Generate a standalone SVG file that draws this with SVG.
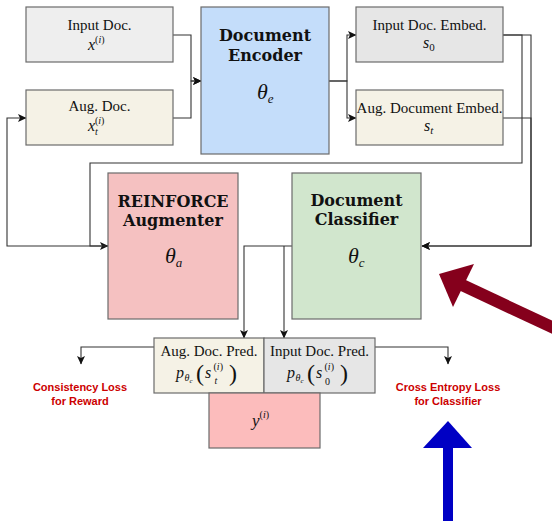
<svg xmlns="http://www.w3.org/2000/svg" width="552" height="521" viewBox="0 0 552 521">
  <defs>
    <marker id="arr" markerUnits="userSpaceOnUse" markerWidth="9" markerHeight="9" viewBox="0 0 9 9" refX="8" refY="4.5" orient="auto">
      <path d="M0,0.5 L8.5,4.5 L0,8.5 L2,4.5 z" fill="#111"/>
    </marker>
    <style>
      .box { stroke: #6b6b6b; stroke-width: 1.2; }
      .edge { fill: none; stroke: #333; stroke-width: 1.1; }
      .t { font-family: "Liberation Serif", "Times New Roman", serif; font-size: 15px; fill: #111; text-anchor: middle; }
      .h { font-family: "DejaVu Serif", "Liberation Serif", serif; font-weight: bold; font-size: 16px; fill: #111; text-anchor: middle; }
      .m { font-family: "Liberation Serif", "Times New Roman", serif; font-style: italic; fill: #111; }
      .loss { font-family: "Liberation Sans", Arial, sans-serif; font-weight: bold; font-size: 11px; fill: #cc0000; text-anchor: middle; }
      .gray { fill: #eeeeee; }
      .gray2 { fill: #e6e6e6; }
      .cream { fill: #f5f2e6; }
    </style>
  </defs>

  <!-- connectors -->
  <g id="connectors">
    <path class="edge" d="M173,35 H191 V81 H201" marker-end="url(#arr)"/>
    <path class="edge" d="M173,118 H191 V81 H201" marker-end="url(#arr)"/>
    <path class="edge" d="M329,81 H347 V35 H356" marker-end="url(#arr)"/>
    <path class="edge" d="M329,81 H347 V118 H356" marker-end="url(#arr)"/>
    <path class="edge" d="M503,35 H522 V163 H90 V246 H108" marker-end="url(#arr)"/>
    <path class="edge" d="M503,35 H531 V246 H422" marker-end="url(#arr)"/>
    <path class="edge" d="M503,118 H531 V246 H422" marker-end="url(#arr)"/>
    <path class="edge" d="M108,246 H7 V118 H26" marker-end="url(#arr)"/>
    <path class="edge" d="M292,246 H244 V338" marker-end="url(#arr)"/>
    <path class="edge" d="M284,246 V338" marker-end="url(#arr)"/>
    <path class="edge" d="M154,347 H81 V364" marker-end="url(#arr)"/>
    <path class="edge" d="M375,347 H448 V364" marker-end="url(#arr)"/>
  </g>

  <!-- input document -->
  <g id="input-doc">
    <rect class="box gray" x="26" y="7" width="147" height="55"/>
    <text class="t" x="99.5" y="30">Input Doc.</text>
    <text class="m" x="88" y="50" font-size="16">x<tspan font-size="10" font-style="normal" dy="-7">(<tspan font-style="italic">i</tspan>)</tspan></text>
  </g>

  <!-- augmented document -->
  <g id="aug-doc">
    <rect class="box cream" x="26" y="90" width="147" height="55"/>
    <text class="t" x="99.5" y="111">Aug. Doc.</text>
    <text class="m" x="88" y="131" font-size="16">x<tspan font-size="10" dy="4">t</tspan><tspan font-size="10" font-style="normal" dx="-3" dy="-11">(<tspan font-style="italic">i</tspan>)</tspan></text>
  </g>

  <!-- encoder -->
  <g id="encoder">
    <rect class="box" fill="#c4ddfa" x="201" y="7" width="128" height="147"/>
    <text class="h" x="265" y="41">Document</text>
    <text class="h" x="265" y="61">Encoder</text>
    <text class="m" x="257" y="99" font-size="22">θ<tspan font-size="13" dy="4">e</tspan></text>
  </g>

  <!-- input embedding -->
  <g id="input-embed">
    <rect class="box gray2" x="356" y="7" width="147" height="55"/>
    <text class="t" x="429.5" y="30">Input Doc. Embed.</text>
    <text class="m" x="423" y="48" font-size="16">s<tspan font-size="11" font-style="normal" dy="3">0</tspan></text>
  </g>

  <!-- augmented embedding -->
  <g id="aug-embed">
    <rect class="box cream" x="356" y="90" width="147" height="55"/>
    <text class="t" x="429.5" y="113">Aug. Document Embed.</text>
    <text class="m" x="424" y="131" font-size="16">s<tspan font-size="11" dy="3">t</tspan></text>
  </g>

  <!-- augmenter -->
  <g id="augmenter">
    <rect class="box" fill="#f5c1c1" x="108" y="173" width="130" height="146"/>
    <text class="h" x="173" y="207">REINFORCE</text>
    <text class="h" x="173" y="226">Augmenter</text>
    <text class="m" x="165" y="263" font-size="22">θ<tspan font-size="13" dy="4">a</tspan></text>
  </g>

  <!-- classifier -->
  <g id="classifier">
    <rect class="box" fill="#d1e6cd" x="292" y="173" width="129" height="146"/>
    <text class="h" x="356.5" y="206">Document</text>
    <text class="h" x="356.5" y="225">Classifier</text>
    <text class="m" x="348" y="263" font-size="22">θ<tspan font-size="13" dy="4">c</tspan></text>
  </g>

  <!-- augmented prediction -->
  <g id="aug-pred">
    <rect class="box cream" x="154" y="338" width="110" height="55"/>
    <text class="t" x="209" y="356">Aug. Doc. Pred.</text>
    <text class="m" font-size="16">
      <tspan x="176" y="378">p</tspan>
      <tspan x="184.5" y="381" font-size="10">θ</tspan>
      <tspan x="189.5" y="383" font-size="7">c</tspan>
      <tspan x="196" y="381" font-size="24" font-style="normal">(</tspan>
      <tspan x="205" y="378">s</tspan>
      <tspan x="213.5" y="370" font-size="10" font-style="normal">(<tspan font-style="italic">i</tspan>)</tspan>
      <tspan x="214.5" y="384" font-size="10">t</tspan>
      <tspan x="229" y="381" font-size="24" font-style="normal">)</tspan>
    </text>
  </g>

  <!-- input prediction -->
  <g id="input-pred">
    <rect class="box gray2" x="264" y="338" width="111" height="55"/>
    <text class="t" x="319.5" y="356">Input Doc. Pred.</text>
    <text class="m" font-size="16">
      <tspan x="287" y="378">p</tspan>
      <tspan x="295.5" y="381" font-size="10">θ</tspan>
      <tspan x="300.5" y="383" font-size="7">c</tspan>
      <tspan x="307" y="381" font-size="24" font-style="normal">(</tspan>
      <tspan x="316" y="378">s</tspan>
      <tspan x="324.5" y="370" font-size="10" font-style="normal">(<tspan font-style="italic">i</tspan>)</tspan>
      <tspan x="325" y="385" font-size="10" font-style="normal">0</tspan>
      <tspan x="340" y="381" font-size="24" font-style="normal">)</tspan>
    </text>
  </g>

  <!-- label -->
  <g id="label">
    <rect class="box" fill="#fcbcbc" x="209" y="393" width="111" height="55"/>
    <text class="m" x="252" y="426" font-size="17">y<tspan font-size="10" font-style="normal" dy="-8">(<tspan font-style="italic">i</tspan>)</tspan></text>
  </g>

  <!-- loss captions -->
  <g id="consistency-loss">
    <text class="loss" x="80" y="391">Consistency Loss</text>
    <text class="loss" x="80" y="405">for Reward</text>
  </g>
  <g id="ce-loss">
    <text class="loss" x="448" y="391">Cross Entropy Loss</text>
    <text class="loss" x="448" y="405">for Classifier</text>
  </g>

  <!-- highlight arrows -->
  <g id="red-arrow">
    <line x1="560" y1="331" x2="460" y2="284" stroke="#85001c" stroke-width="12"/>
    <polygon points="439,274 474,264 453,307" fill="#85001c"/>
  </g>
  <g id="blue-arrow">
    <rect x="443" y="446" width="10" height="80" fill="#0000c4"/>
    <polygon points="448,421 472,448 423,448" fill="#0000c4"/>
  </g>
</svg>
